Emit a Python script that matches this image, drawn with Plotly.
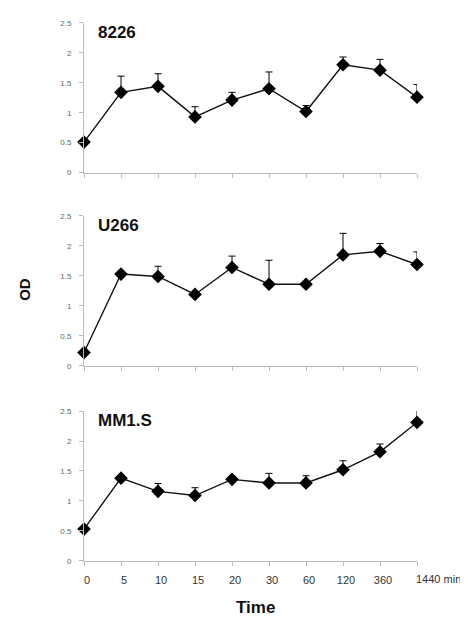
import plotly.graph_objects as go

times = ["0", "5", "10", "15", "20", "30", "60", "120", "360", "1440 min"]
yticks = [0, 0.5, 1, 1.5, 2, 2.5]
ytick_text = ["0", "0.5", "1", "1.5", "2", "2.5"]

panel_names = ["8226", "U266", "MM1.S"]

od_8226 = [0.51, 1.34, 1.44, 0.93, 1.21, 1.40, 1.02, 1.80, 1.71, 1.26]
err_8226 = [0.0, 0.27, 0.21, 0.17, 0.13, 0.28, 0.10, 0.13, 0.18, 0.21]

od_u266 = [0.22, 1.53, 1.49, 1.19, 1.64, 1.36, 1.36, 1.85, 1.91, 1.69]
err_u266 = [0.0, 0.0, 0.17, 0.0, 0.19, 0.40, 0.0, 0.36, 0.13, 0.21]

od_mm1s = [0.53, 1.38, 1.16, 1.09, 1.36, 1.30, 1.30, 1.52, 1.82, 2.31]
err_mm1s = [0.0, 0.03, 0.13, 0.13, 0.04, 0.16, 0.12, 0.15, 0.13, 0.20]

series = [(od_8226, err_8226), (od_u266, err_u266), (od_mm1s, err_mm1s)]

# page body has an 8px margin; the figure is laid out in its own pixels
OFF = 8
W, H = 468 - OFF, 621 - OFF


def px_x(p):
    return (p - OFF) / W


def px_y(p):
    return 1 - (p - OFF) / H


x_dom = [px_x(84), px_x(417)]
panels_px = [(19, 171), (215, 367), (413, 565)]
FONT = "Liberation Sans, Arial"

fig = go.Figure()
idx = list(range(len(times)))

for i, ((vals, errs), name) in enumerate(zip(series, panel_names)):
    n = i + 1
    xa = "x" if n == 1 else f"x{n}"
    ya = "y" if n == 1 else f"y{n}"
    fig.add_trace(go.Scatter(
        x=idx, y=vals, xaxis=xa, yaxis=ya, mode="lines+markers",
        line=dict(color="#111111", width=1.4),
        marker=dict(symbol="diamond", size=10.5, color="black"),
        error_y=dict(type="data", symmetric=False, array=errs,
                     arrayminus=[0] * len(errs), color="black",
                     thickness=1, width=3.5),
        cliponaxis=False, showlegend=False,
    ))
    top, bot = panels_px[i]
    dom = [px_y(bot), px_y(top)]
    last = (n == 3)
    xkey = "xaxis" if n == 1 else f"xaxis{n}"
    ykey = "yaxis" if n == 1 else f"yaxis{n}"
    fig.layout[xkey] = dict(
        domain=x_dom, anchor=ya, range=[0, len(times) - 1],
        showline=True, linecolor="#bbbbbb", linewidth=1,
        ticks="outside", ticklen=4, tickcolor="#bbbbbb",
        tickmode="array", tickvals=idx,
        ticktext=(times[:-1] + [""]) if last else [""] * len(times),
        showticklabels=last, showgrid=False, zeroline=False,
        tickfont=dict(family=FONT, size=11, color="#333333"),
        ticklabelshift=3, ticklabelstandoff=5,
    )
    fig.layout[ykey] = dict(
        domain=dom, anchor=xa, range=[0, 2.5],
        showline=True, linecolor="#bbbbbb", linewidth=1,
        ticks="outside", ticklen=4, tickcolor="#bbbbbb",
        tickmode="array", tickvals=yticks, ticktext=ytick_text,
        showgrid=False, zeroline=False, ticklabelstandoff=6,
        tickfont=dict(family=FONT, size=8, color="#666666"),
    )
    fig.add_annotation(
        text=f"<b>{name}</b>", xref="paper", yref="paper",
        x=px_x(96), y=px_y(top + 10), xanchor="left", yanchor="middle",
        showarrow=False,
        font=dict(family=FONT, size=17, color="#111111"),
    )

fig.add_annotation(
    text=times[-1], xref="x3", yref="paper", x=len(times) - 1,
    y=px_y(583), xanchor="left", yanchor="middle", xshift=-3,
    showarrow=False,
    font=dict(family=FONT, size=11, color="#333333"),
)
fig.add_annotation(
    text="<b>Time</b>", xref="paper", yref="paper", x=px_x(255), y=px_y(612),
    xanchor="center", yanchor="middle", showarrow=False,
    font=dict(family=FONT, size=17, color="#111111"),
)
fig.add_annotation(
    text="<b>OD</b>", xref="paper", yref="paper", x=px_x(25), y=px_y(290),
    xanchor="center", yanchor="middle", textangle=-90, showarrow=False,
    font=dict(family=FONT, size=15, color="#111111"),
)

fig.update_layout(
    width=W, height=H, margin=dict(l=0, r=0, t=0, b=0),
    paper_bgcolor="white", plot_bgcolor="white",
)

fig.write_html("out.html")
